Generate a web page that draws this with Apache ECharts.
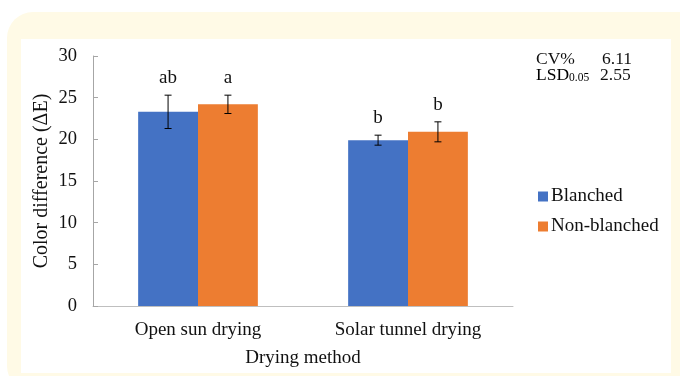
<!DOCTYPE html>
<html>
<head>
<meta charset="utf-8">
<script src="https://cdn.jsdelivr.net/npm/echarts@6/dist/echarts.min.js"></script>
<style>
  html, body { margin: 0; padding: 0; background: #fff; }
  #chart { width: 680px; height: 376px; }
</style>
</head>
<body>
<div id="chart"></div>
<script>
// data
const categories = ['Open sun drying', 'Solar tunnel drying']
const blanched = [23.3, 19.9]
const blanchedErr = [2.0, 0.6]
const blanchedLetters = ['ab', 'b']
const nonBlanched = [24.2, 20.9]
const nonBlanchedErr = [1.1, 1.2]
const nonBlanchedLetters = ['a', 'b']
const yTicks = { min: 0, max: 30, interval: 5 }

const serif = '"Liberation Serif", "DejaVu Serif", serif'
const txt = '#111'
const fs = 19
const catGap = 0.43

// error bar + letter, side = -1 left bar, +1 right bar
function errSeries(means, errs, letters, side) {
  return {
    type: 'custom',
    z: 5,
    data: means.map((m, i) => [i, m, errs[i]]),
    renderItem(params, api) {
      const i = api.value(0)
      const m = api.value(1)
      const e = api.value(2)
      const band = api.size([1, 0])[0]
      const off = side * band * (1 - catGap) / 4
      const top = api.coord([i, m + e])
      const bot = api.coord([i, m - e])
      const x = top[0] + off
      const cap = 3.5
      const st = { stroke: '#000', lineWidth: 1 }
      return {
        type: 'group',
        children: [
          { type: 'line', shape: { x1: x, y1: top[1], x2: x, y2: bot[1] }, style: st },
          { type: 'line', shape: { x1: x - cap, y1: top[1], x2: x + cap, y2: top[1] }, style: st },
          { type: 'line', shape: { x1: x - cap, y1: bot[1], x2: x + cap, y2: bot[1] }, style: st },
          {
            type: 'text',
            style: {
              text: letters[i], x: x, y: top[1] - 17,
              align: 'center', verticalAlign: 'middle',
              font: fs + 'px ' + serif, fill: txt
            }
          }
        ]
      }
    }
  }
}

const chart = echarts.init(document.getElementById('chart'))
chart.setOption({
  animation: false,
  backgroundColor: '#fff',
  textStyle: { fontFamily: serif, color: txt },
  graphic: [
    { type: 'rect', z: -10, shape: { x: 7, y: 12, width: 700, height: 380, r: 26 }, style: { fill: '#fffae6' } },
    { type: 'rect', z: -9, shape: { x: 21, y: 39, width: 650, height: 334 }, style: { fill: '#fff' } },
    {
      type: 'text', left: 536, top: 50,
      style: { text: 'CV%', font: '17.5px ' + serif, fill: txt }
    },
    {
      type: 'text', left: 602, top: 50,
      style: { text: '6.11', font: '17.5px ' + serif, fill: txt }
    },
    {
      type: 'text', left: 536, top: 66,
      style: {
        text: '{a|LSD}{s|0.05}',
        rich: {
          a: { fontFamily: serif, fontSize: 17.5, color: txt, verticalAlign: 'bottom' },
          s: { fontFamily: serif, fontSize: 11.5, color: txt, padding: [7, 0, 0, 0], verticalAlign: 'bottom' }
        }
      }
    },
    {
      type: 'text', left: 600, top: 66,
      style: { text: '2.55', font: '17.5px ' + serif, fill: txt }
    }
  ],
  grid: { left: 93, right: 167, top: 56, bottom: 70 },
  legend: {
    orient: 'vertical',
    left: 533,
    top: 182,
    itemWidth: 10,
    itemHeight: 10,
    itemGap: 11,
    icon: 'rect',
    textStyle: { fontFamily: serif, fontSize: fs, color: txt, padding: [0, 0, 0, -2] },
    data: ['Blanched', 'Non-blanched']
  },
  xAxis: {
    type: 'category',
    data: categories,
    name: 'Drying method',
    nameLocation: 'middle',
    nameGap: 43,
    nameTextStyle: { fontFamily: serif, fontSize: fs, color: txt },
    axisLine: { lineStyle: { color: '#bfbfbf', width: 1 } },
    axisTick: { show: false },
    axisLabel: { fontFamily: serif, fontSize: fs, color: txt, margin: 15 }
  },
  yAxis: {
    type: 'value',
    min: yTicks.min,
    max: yTicks.max,
    interval: yTicks.interval,
    name: 'Color difference (ΔE)',
    nameLocation: 'middle',
    nameRotate: 90,
    nameGap: 41,
    nameMoveOverlap: false,
    nameTextStyle: { fontFamily: serif, fontSize: 20, color: txt },
    axisLine: { show: true, lineStyle: { color: '#a6a6a6', width: 1 } },
    axisTick: { show: true, inside: true, length: 5, lineStyle: { color: '#a6a6a6' } },
    splitLine: { show: false },
    axisLabel: { fontFamily: serif, fontSize: 18.5, color: txt, margin: 16 }
  },
  series: [
    {
      name: 'Blanched', type: 'bar', data: blanched,
      barGap: '0%', barCategoryGap: (catGap * 100) + '%',
      itemStyle: { color: '#4472c4' }
    },
    {
      name: 'Non-blanched', type: 'bar', data: nonBlanched,
      barGap: '0%', barCategoryGap: (catGap * 100) + '%',
      itemStyle: { color: '#ed7d31' }
    },
    errSeries(blanched, blanchedErr, blanchedLetters, -1),
    errSeries(nonBlanched, nonBlanchedErr, nonBlanchedLetters, 1)
  ]
})
</script>
</body>
</html>
